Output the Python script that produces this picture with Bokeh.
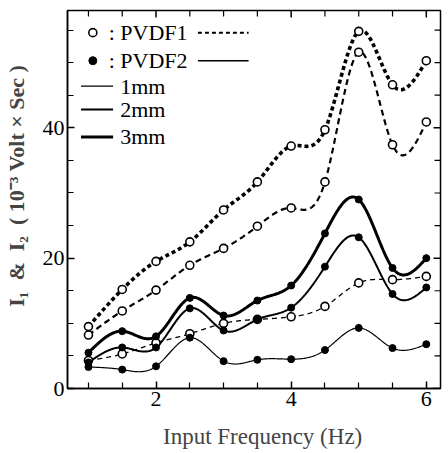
import numpy as np
from bokeh.plotting import figure
from bokeh.models import FixedTicker, LinearAxis, Range1d
from bokeh.core.properties import value
from bokeh.embed import file_html
from bokeh.resources import INLINE

# ---- data ----
freq = [1.0, 1.5, 2.0, 2.5, 3.0, 3.5, 4.0, 4.5, 5.0, 5.5, 6.0]
pvdf1_1mm = [4.3, 5.3, 7.0, 8.4, 10.0, 10.6, 11.0, 12.6, 16.2, 16.7, 17.2]
pvdf1_2mm = [8.2, 11.9, 15.1, 18.9, 21.5, 24.9, 27.7, 31.7, 51.6, 37.4, 40.9]
pvdf1_3mm = [9.5, 15.2, 19.5, 22.5, 27.4, 31.7, 37.2, 39.7, 54.8, 46.6, 50.3]
pvdf2_1mm = [3.3, 2.9, 3.4, 7.8, 4.2, 4.4, 4.5, 5.9, 9.3, 6.2, 6.8]
pvdf2_2mm = [4.0, 6.3, 6.3, 12.3, 8.9, 10.6, 12.4, 18.7, 23.2, 14.5, 15.5]
pvdf2_3mm = [5.5, 8.8, 8.0, 13.9, 11.2, 13.5, 15.8, 23.8, 29.0, 18.5, 20.0]

x_ticks = [2, 4, 6]
x_minor = [1, 1.5, 2.5, 3, 3.5, 4.5, 5, 5.5]
y_ticks = [0, 20, 40]
y_minor = [5, 10, 15, 25, 30, 35, 45, 50, 55]

NB = "\u00a0"
x_title = NB * 3 + "Input Frequency (Hz)"
y_title = (NB * 5 + "I\u2081" + NB * 2 + "&" + NB * 2 + "I\u2082" + NB * 2 + "(" + NB
           + "10\u207b\u00b3 Volt \u00d7 Sec )")
series_labels = [": PVDF1", ": PVDF2"]
thick_labels = ["1mm", "2mm", "3mm"]

FONT = "Liberation Serif"
X0, X1 = 0.69, 6.21
Y0, Y1 = 0.0, 58.0


def smooth(x, y, n=500):
    """Natural cubic spline through the data points (for drawing only)."""
    x = np.asarray(x, float)
    y = np.asarray(y, float)
    m = len(x)
    h = np.diff(x)
    A = np.zeros((m, m))
    b = np.zeros(m)
    A[0, 0] = 1
    A[-1, -1] = 1
    for i in range(1, m - 1):
        A[i, i - 1] = h[i - 1]
        A[i, i] = 2 * (h[i - 1] + h[i])
        A[i, i + 1] = h[i]
        b[i] = 3 * ((y[i + 1] - y[i]) / h[i] - (y[i] - y[i - 1]) / h[i - 1])
    c = np.linalg.solve(A, b)
    xs = np.linspace(x[0], x[-1], n)
    idx = np.clip(np.searchsorted(x, xs, side="right") - 1, 0, m - 2)
    dx = xs - x[idx]
    bb = (y[idx + 1] - y[idx]) / h[idx] - h[idx] * (2 * c[idx] + c[idx + 1]) / 3
    dd = (c[idx + 1] - c[idx]) / (3 * h[idx])
    ys = y[idx] + bb * dx + c[idx] * dx ** 2 + dd * dx ** 3
    return xs, ys


p = figure(frame_width=373, frame_height=378, output_backend="svg", toolbar_location=None,
           x_range=Range1d(X0, X1), y_range=Range1d(Y0, Y1),
           x_axis_type=None, y_axis_type=None,
           min_border_top=10, min_border_right=9, min_border_left=66, min_border_bottom=40)
p.outline_line_color = "black"
p.outline_line_width = 1.5
p.xgrid.visible = False
p.ygrid.visible = False
p.background_fill_color = "white"
p.border_fill_color = "white"


def make_axis(ticks, minor):
    ax = LinearAxis(ticker=FixedTicker(ticks=ticks, minor_ticks=minor))
    ax.major_tick_in = 7
    ax.major_tick_out = 0
    ax.minor_tick_in = 6
    ax.minor_tick_out = 0
    ax.major_tick_line_width = 1.5
    ax.minor_tick_line_width = 1.2
    ax.axis_line_width = 1.5
    ax.major_label_text_font = FONT
    ax.major_label_text_color = "black"
    ax.major_label_text_font_size = "22px"
    return ax


xb = make_axis(x_ticks, x_minor)
xb.major_label_standoff = 3
xb.axis_label = x_title
xb.axis_label_text_font = FONT
xb.axis_label_text_font_size = "23px"
xb.axis_label_text_font_style = "normal"
xb.axis_label_standoff = 15
p.add_layout(xb, "below")

yl = make_axis(y_ticks, y_minor)
yl.major_label_standoff = 3
yl.axis_label = y_title
yl.axis_label_text_font = FONT
yl.axis_label_text_font_size = "22px"
yl.axis_label_text_font_style = "bold"
yl.axis_label_standoff = 11
p.add_layout(yl, "left")

# inward ticks on the top and right edges of the frame
tick_len_y = 7 / 6.53
tick_len_x = 7 / 67.7
p.segment(x0=x_ticks, y0=[Y1] * len(x_ticks), x1=x_ticks,
          y1=[Y1 - tick_len_y] * len(x_ticks), line_color="black", line_width=1.5)
p.segment(x0=x_minor, y0=[Y1] * len(x_minor), x1=x_minor,
          y1=[Y1 - tick_len_y * 0.85] * len(x_minor), line_color="black", line_width=1.2)
p.segment(x0=[X1] * len(y_ticks), y0=y_ticks, x1=[X1 - tick_len_x] * len(y_ticks),
          y1=y_ticks, line_color="black", line_width=1.5)
p.segment(x0=[X1] * len(y_minor), y0=y_minor, x1=[X1 - tick_len_x * 0.85] * len(y_minor),
          y1=y_minor, line_color="black", line_width=1.2)

# ---- curves ----
styles = [
    (pvdf1_1mm, "open", 1.3, "5 4"),
    (pvdf1_2mm, "open", 2.2, "6 4"),
    (pvdf1_3mm, "open", 3.6, "4 3"),
    (pvdf2_1mm, "fill", 1.2, "solid"),
    (pvdf2_2mm, "fill", 2.0, "solid"),
    (pvdf2_3mm, "fill", 3.0, "solid"),
]
for ys, kind, lw, dash in styles:
    sx, sy = smooth(freq, ys)
    p.line(sx, sy, line_color="black", line_width=lw, line_dash=dash)
for ys, kind, lw, dash in styles:
    if kind == "open":
        p.scatter(freq, ys, marker="circle", size=8, fill_color="white",
                  line_color="black", line_width=1.6)
    else:
        p.scatter(freq, ys, marker="circle", size=7, fill_color="black",
                  line_color="black", line_width=1)

# ---- legend (drawn in data space, top-left) ----
p.scatter([1.065], [54.6], marker="circle", size=8, fill_color="white",
          line_color="black", line_width=1.6)
p.scatter([1.065], [50.3], marker="circle", size=8, fill_color="black",
          line_color="black", line_width=1)
p.text(x=[1.30, 1.30], y=[54.6, 50.3], text=series_labels,
       text_font=value(FONT), text_font_size="22px",
       text_baseline="middle", text_align="left", text_color="black")
p.segment(x0=[2.62], y0=[54.6], x1=[3.37], y1=[54.6], line_color="black",
          line_width=2.0, line_dash="4 3")
p.segment(x0=[2.62], y0=[50.3], x1=[3.37], y1=[50.3], line_color="black",
          line_width=1.5)
leg_y = [46.4, 42.8, 38.6]
leg_w = [1.2, 2.0, 3.0]
for yy, w in zip(leg_y, leg_w):
    p.segment(x0=[0.89], y0=[yy], x1=[1.365], y1=[yy], line_color="black", line_width=w)
p.text(x=[1.47] * 3, y=leg_y, text=thick_labels, text_font=value(FONT),
       text_font_size="22px", text_baseline="middle", text_align="left",
       text_color="black")

open("out.html", "w").write(file_html(p, INLINE))
